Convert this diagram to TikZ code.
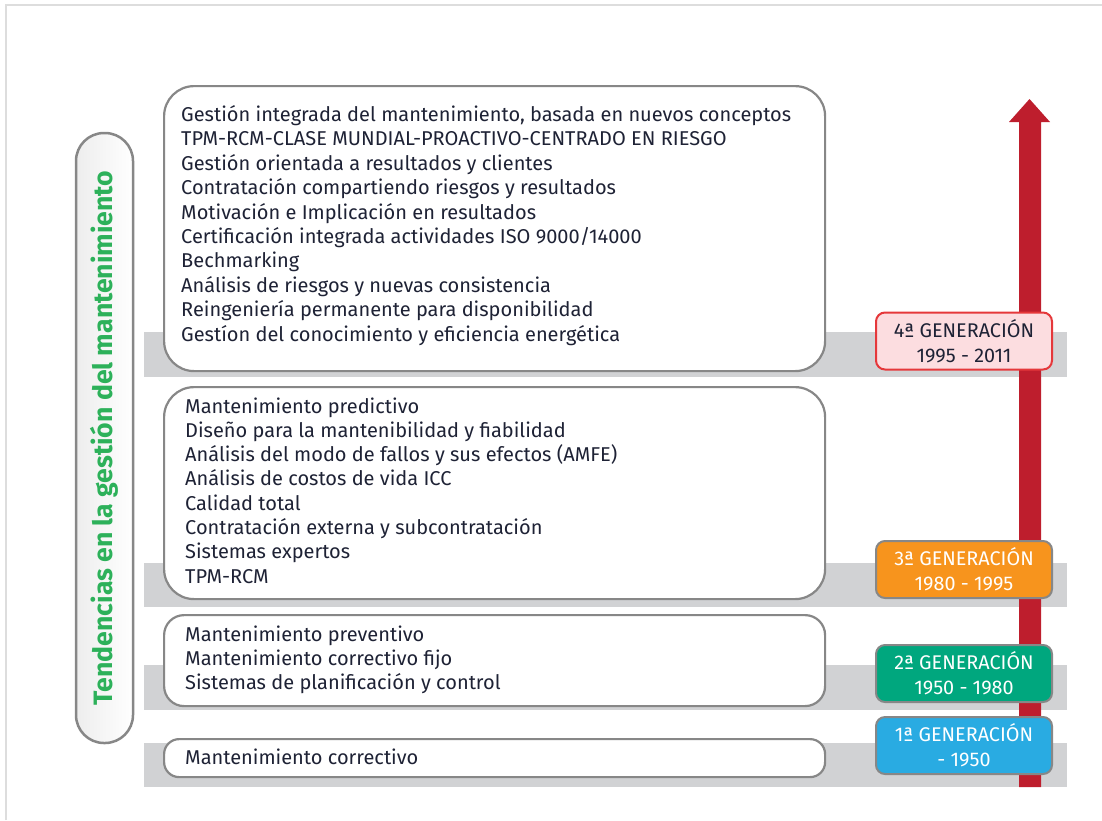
\documentclass[tikz,border=0pt]{standalone}
\usepackage{fontspec}
\setmainfont{Fira Sans}
\usetikzlibrary{shapes.geometric}
\definecolor{band}{HTML}{D1D2D4}
\definecolor{boxline}{HTML}{878787}
\definecolor{arrowred}{HTML}{BE1E2D}
\definecolor{genorange}{HTML}{F7941D}
\definecolor{gengreen}{HTML}{00A77E}
\definecolor{genblue}{HTML}{29ABE2}
\definecolor{genpink}{HTML}{FCDDE0}
\definecolor{pinkline}{HTML}{E5383B}
\definecolor{txt}{HTML}{1E2235}
\definecolor{labgreen}{HTML}{2DB15A}
\definecolor{frame}{HTML}{DDDDDD}
\tikzset{
  bandbar/.style={fill=band, draw=none},
  bigbox/.style={draw=boxline, line width=2.2pt, fill=white, rectangle, inner sep=0pt, anchor=north west},
  line/.style={anchor=base west, inner sep=0pt, text=txt, font=\fontsize{20}{24}\selectfont},
  genbox/.style={draw=boxline, line width=2pt, rounded corners=9pt, minimum width=176pt, minimum height=57pt, align=center, inner sep=0pt, font=\fontsize{19.8}{25}\selectfont, text=white},
}
\begin{document}
\begin{tikzpicture}[x=1pt,y=-1pt]
\useasboundingbox (0,0) rectangle (1102,820);
% outer frame (left and top only)
\draw[frame, line width=2pt] (6,820) -- (6,5) -- (1102,5);
% gray bands
\fill[bandbar] (144,332) rectangle (1067,377);
\fill[bandbar] (144,563) rectangle (1067,607);
\fill[bandbar] (144,665) rectangle (1067,710);
\fill[bandbar] (144,743) rectangle (1067,787);
% red arrow
\fill[arrowred] (1019,787) -- (1019,122) -- (1009,122) -- (1029.5,99) -- (1050,122) -- (1041,122) -- (1041,787) -- cycle;
% side label pill
\node[draw=boxline, line width=2.5pt, rounded corners=28pt, left color=black!7, right color=white, minimum width=57pt, minimum height=610pt, inner sep=0pt] (pill) at (104.5,438) {};
\node[rotate=90, text=labgreen, font=\fontsize{26.6}{30}\selectfont\bfseries, inner sep=0pt] (lab) at (pill.center) {Tendencias en la gestión del mantenimiento};
% boxes
\node[bigbox, rounded corners=30pt, minimum width=661pt, minimum height=285pt] (b4) at (163,85) {};
\node[bigbox, rounded corners=30pt, minimum width=661pt, minimum height=212pt] (b3) at (163,386) {};
\node[bigbox, rounded corners=20pt, minimum width=661pt, minimum height=91pt] (b2) at (163,614) {};
\node[bigbox, rounded corners=15pt, minimum width=661pt, minimum height=38pt] (b1) at (163,738) {};
% texts
\foreach \t [count=\i] in {{Gestión integrada del mantenimiento, basada en nuevos conceptos},{TPM-RCM-CLASE MUNDIAL-PROACTIVO-CENTRADO EN RIESGO},{Gestión orientada a resultados y clientes},{Contratación compartiendo riesgos y resultados},{Motivación e Implicación en resultados},{Certificación integrada actividades ISO 9000/14000},{Bechmarking},{Análisis de riesgos y nuevas consistencia},{Reingeniería permanente para disponibilidad},{Gestíon del conocimiento y eficiencia energética}}
  \node[line] (t4\i) at (181,{121.5+24.4*(\i-1)}) {\t};
\foreach \t [count=\i] in {Mantenimiento predictivo,Diseño para la mantenibilidad y fiabilidad,Análisis del modo de fallos y sus efectos (AMFE),Análisis de costos de vida ICC,Calidad total,Contratación externa y subcontratación,Sistemas expertos,TPM-RCM}
  \node[line] (t3\i) at (185,{413+24.3*(\i-1)}) {\t};
\foreach \t [count=\i] in {Mantenimiento preventivo,Mantenimiento correctivo fijo,Sistemas de planificación y control}
  \node[line] (t2\i) at (185,{641+24.2*(\i-1)}) {\t};
\node[line] (t11) at (185,764) {Mantenimiento correctivo};
% generation labels
\node[genbox, draw=pinkline, fill=genpink, text=txt] (g4) at (964,341) {4ª GENERACIÓN\\1995 - 2011};
\node[genbox, fill=genorange] (g3) at (964,569.5) {3ª GENERACIÓN\\1980 - 1995};
\node[genbox, fill=gengreen] (g2) at (964,673.5) {2ª GENERACIÓN\\1950 - 1980};
\node[genbox, fill=genblue] (g1) at (964,745.5) {1ª GENERACIÓN\\- 1950};
\end{tikzpicture}
\end{document}
